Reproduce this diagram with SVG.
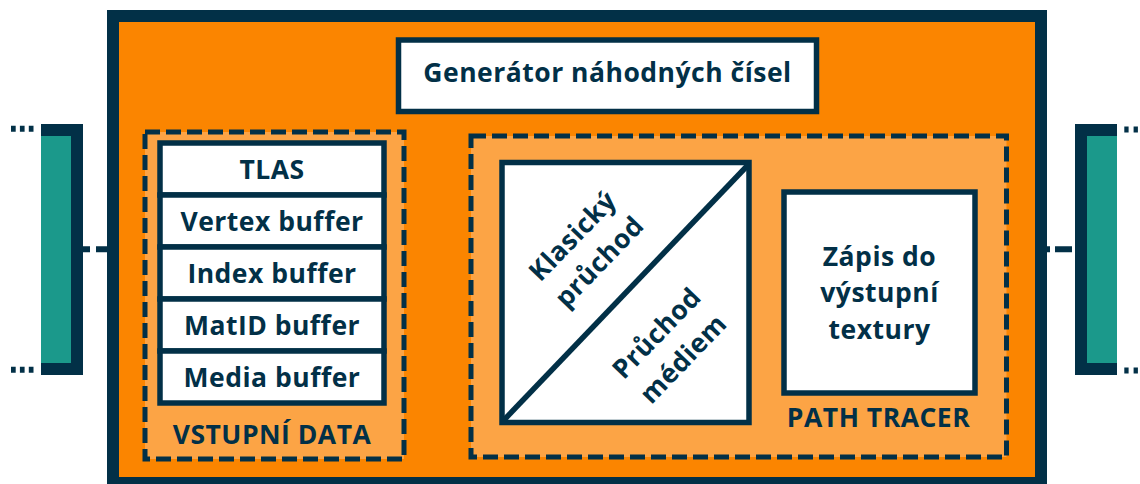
<svg xmlns="http://www.w3.org/2000/svg" width="1140" height="484" viewBox="0 0 1140 484">
<style>
.t{font-family:"Open Sans","Lato","Liberation Sans",sans-serif;font-weight:700;fill:#023047;font-size:26.5px;letter-spacing:0.5px;text-anchor:middle}
.box{fill:#fff;stroke:#023047;stroke-width:5.5}
.grp{fill:#FCA445;stroke:#023047;stroke-width:5;stroke-dasharray:15 6}
.dk{fill:#023047}
.teal{fill:#1B998B}
.cn{stroke:#023047;stroke-width:6;fill:none}
</style>
<rect width="1140" height="484" fill="#fff"/>
<g id="left-stage">
<rect class="dk" x="41" y="124" width="42" height="251"/>
<rect class="teal" x="41" y="136" width="30" height="227"/>
</g>
<g id="right-stage">
<rect class="dk" x="1075" y="124" width="42" height="251"/>
<rect class="teal" x="1087" y="136" width="30" height="227"/>
</g>
<g id="connectors">
<line class="cn" x1="11" y1="128.7" x2="34" y2="128.7" stroke-dasharray="4.7 4.2"/>
<line class="cn" x1="11" y1="369.7" x2="34" y2="369.7" stroke-dasharray="4.7 4.2"/>
<line class="cn" x1="1124.3" y1="129.5" x2="1140" y2="129.5" stroke-dasharray="4.3 5"/>
<line class="cn" x1="1124.3" y1="370.5" x2="1140" y2="370.5" stroke-dasharray="4.3 5"/>
<path class="cn" d="M83 249.3H90M96 249.3H108"/>
<path class="cn" d="M1046 249.3H1050M1055 249.3H1072"/>
</g>
<g id="main">
<rect x="113" y="16" width="928" height="467" fill="#FB8500" stroke="#023047" stroke-width="12"/>
</g>
<g id="generator">
<rect class="box" x="398.5" y="40" width="418" height="71.5"/>
<text class="t" x="607.5" y="82">Generátor náhodných čísel</text>
</g>
<g id="vstupni-data">
<rect class="grp" x="145" y="132" width="259" height="327"/>
<text class="t" x="272" y="444">VSTUPNÍ DATA</text>
</g>
<g id="tlas">
<rect class="box" x="160" y="143" width="224" height="52"/>
<text class="t" x="272" y="178.5">TLAS</text>
</g>
<g id="vertex-buffer">
<rect class="box" x="160" y="195" width="224" height="52"/>
<text class="t" x="272" y="230.5">Vertex buffer</text>
</g>
<g id="index-buffer">
<rect class="box" x="160" y="247" width="224" height="52"/>
<text class="t" x="272" y="282.5">Index buffer</text>
</g>
<g id="matid-buffer">
<rect class="box" x="160" y="299" width="224" height="52"/>
<text class="t" x="272" y="334.5">MatID buffer</text>
</g>
<g id="media-buffer">
<rect class="box" x="160" y="351" width="224" height="52"/>
<text class="t" x="272" y="386.5">Media buffer</text>
</g>
<g id="path-tracer">
<rect class="grp" x="471" y="136" width="535.5" height="321"/>
<text class="t" x="878.5" y="427">PATH TRACER</text>
</g>
<g id="pruchod">
<rect class="box" x="502" y="162.5" width="247" height="260" stroke-width="5"/>
<line x1="504" y1="420" x2="748" y2="165" stroke="#023047" stroke-width="5.5"/>
<g transform="translate(585,248) rotate(-46)">
<text class="t" x="0" y="-8">Klasický</text>
<text class="t" x="0" y="29">průchod</text>
</g>
<g transform="translate(669,345) rotate(-46)">
<text class="t" x="0" y="-8">Průchod</text>
<text class="t" x="0" y="29">médiem</text>
</g>
</g>
<g id="zapis">
<rect class="box" x="784" y="192" width="191" height="201"/>
<text class="t" x="879.5" y="266">Zápis do</text>
<text class="t" x="879.5" y="302">výstupní</text>
<text class="t" x="879.5" y="339">textury</text>
</g>
</svg>
